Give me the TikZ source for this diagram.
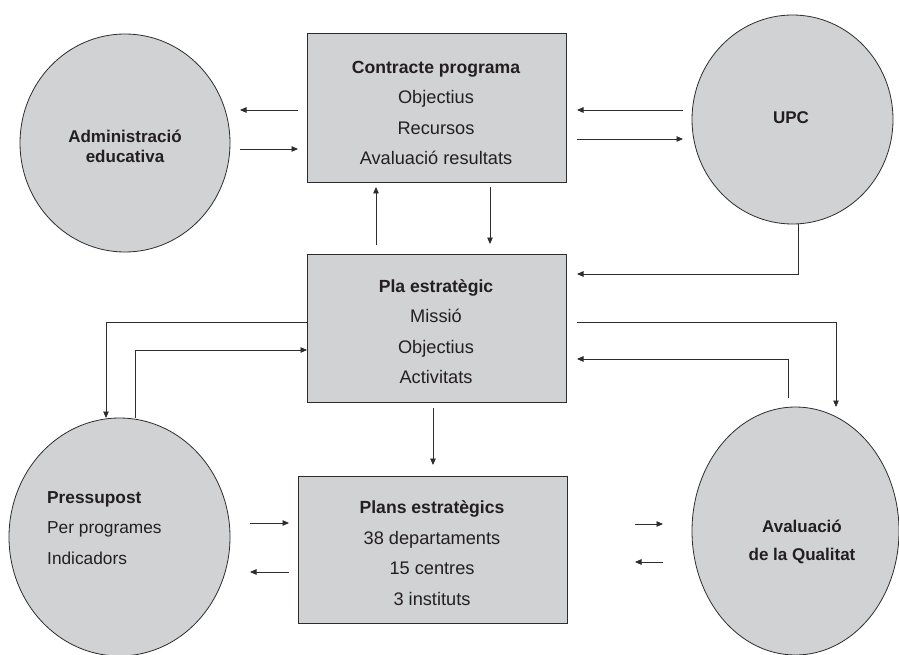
\documentclass[tikz,border=0pt]{standalone}
\usepackage{fontspec}
\setmainfont{Liberation Sans}
\usetikzlibrary{arrows.meta,shapes.geometric}
\definecolor{fillg}{RGB}{209,210,212}
\definecolor{lineg}{RGB}{45,45,45}
\definecolor{txt}{RGB}{35,31,32}
\begin{document}
\begin{tikzpicture}[x=1pt,y=-1pt,
  circ/.style={ellipse, draw=lineg, fill=fillg, line width=0.8pt, inner sep=0pt},
  boxs/.style={rectangle, draw=lineg, fill=fillg, line width=0.8pt, inner sep=0pt},
  lbl/.style={text=txt, inner sep=0pt, font=\fontsize{18.2}{30.5}\selectfont},
  arr/.style={draw=lineg, line width=0.9pt, -{Triangle[length=6.5pt,width=5.5pt]}}]
\useasboundingbox (0,0) rectangle (899,655);
% shapes
\node[circ, minimum width=210pt, minimum height=218pt] (adm) at (125,143) {};
\node[circ, minimum width=201pt, minimum height=209pt] (upc) at (792.5,119.5) {};
\node[circ, minimum width=221pt, minimum height=238pt] (pre) at (119.5,537) {};
\node[circ, minimum width=207pt, minimum height=248pt] (ava) at (795.5,531) {};
\node[boxs, minimum width=259pt, minimum height=149pt] (cp) at (436.5,107.5) {};
\node[boxs, minimum width=259pt, minimum height=148pt] (pla) at (436.5,328) {};
\node[boxs, minimum width=269pt, minimum height=147pt] (plans) at (432.5,549.5) {};
% texts
\node[lbl, align=center, font=\fontsize{17}{20}\selectfont\bfseries] (admt) at (125,146) {Administració\\educativa};
\node[lbl, font=\fontsize{17}{20}\selectfont\bfseries] (upct) at (791,118) {UPC};
\node[lbl, align=center] (cpt) at (436,113) {{\fontsize{17.6}{30.5}\selectfont\bfseries Contracte programa}\\Objectius\\Recursos\\Avaluació resultats};
\node[lbl, align=center] (plat) at (436,331.5) {{\fontsize{17.6}{30.5}\selectfont\bfseries Pla estratègic}\\Missió\\Objectius\\Activitats};
\node[lbl, align=center] (planst) at (432,553) {{\fontsize{17.6}{30.5}\selectfont\bfseries Plans estratègics}\\38 departaments\\15 centres\\3 instituts};
\node[lbl, align=left, anchor=west, font=\fontsize{17.3}{30.5}\selectfont] (pret) at (47,528) {\textbf{Pressupost}\\Per programes\\Indicadors};
\node[lbl, align=center, font=\fontsize{17}{28}\selectfont\bfseries] (avat) at (802,542) {Avaluació\\de la Qualitat};
% arrow end points
\coordinate (a1s) at (298,110); \coordinate (a1e) at (240,110);
\coordinate (a2s) at (240,149); \coordinate (a2e) at (298,149);
\coordinate (a3s) at (683,110); \coordinate (a3e) at (577,110);
\coordinate (a4s) at (577,139); \coordinate (a4e) at (683,139);
\coordinate (a5s) at (798,224); \coordinate (a5m) at (798,274); \coordinate (a5e) at (577,274);
\coordinate (a6s) at (376,245); \coordinate (a6e) at (376,187);
\coordinate (a7s) at (490,187); \coordinate (a7e) at (490,244);
\coordinate (a8s) at (307,322); \coordinate (a8m) at (106,322); \coordinate (a8e) at (106,418);
\coordinate (a9s) at (135,418); \coordinate (a9m) at (135,350); \coordinate (a9e) at (307,350);
\coordinate (a10s) at (433,408); \coordinate (a10e) at (433,465);
\coordinate (a11s) at (577,322); \coordinate (a11m) at (836,322); \coordinate (a11e) at (836,407);
\coordinate (a12s) at (788,398); \coordinate (a12m) at (788,359); \coordinate (a12e) at (577,359);
\coordinate (a13s) at (250,523); \coordinate (a13e) at (289,523);
\coordinate (a14s) at (289,572); \coordinate (a14e) at (250,572);
\coordinate (a15s) at (635,524); \coordinate (a15e) at (663,524);
\coordinate (a16s) at (663,562); \coordinate (a16e) at (635,562);
% connectors
\draw[arr] (a1s) -- (a1e);
\draw[arr] (a2s) -- (a2e);
\draw[arr] (a3s) -- (a3e);
\draw[arr] (a4s) -- (a4e);
\draw[arr] (a5s) -- (a5m) -- (a5e);
\draw[arr] (a6s) -- (a6e);
\draw[arr] (a7s) -- (a7e);
\draw[arr] (a8s) -- (a8m) -- (a8e);
\draw[arr] (a9s) -- (a9m) -- (a9e);
\draw[arr] (a10s) -- (a10e);
\draw[arr] (a11s) -- (a11m) -- (a11e);
\draw[arr] (a12s) -- (a12m) -- (a12e);
\draw[arr] (a13s) -- (a13e);
\draw[arr] (a14s) -- (a14e);
\draw[arr] (a15s) -- (a15e);
\draw[arr] (a16s) -- (a16e);
\end{tikzpicture}
\end{document}
